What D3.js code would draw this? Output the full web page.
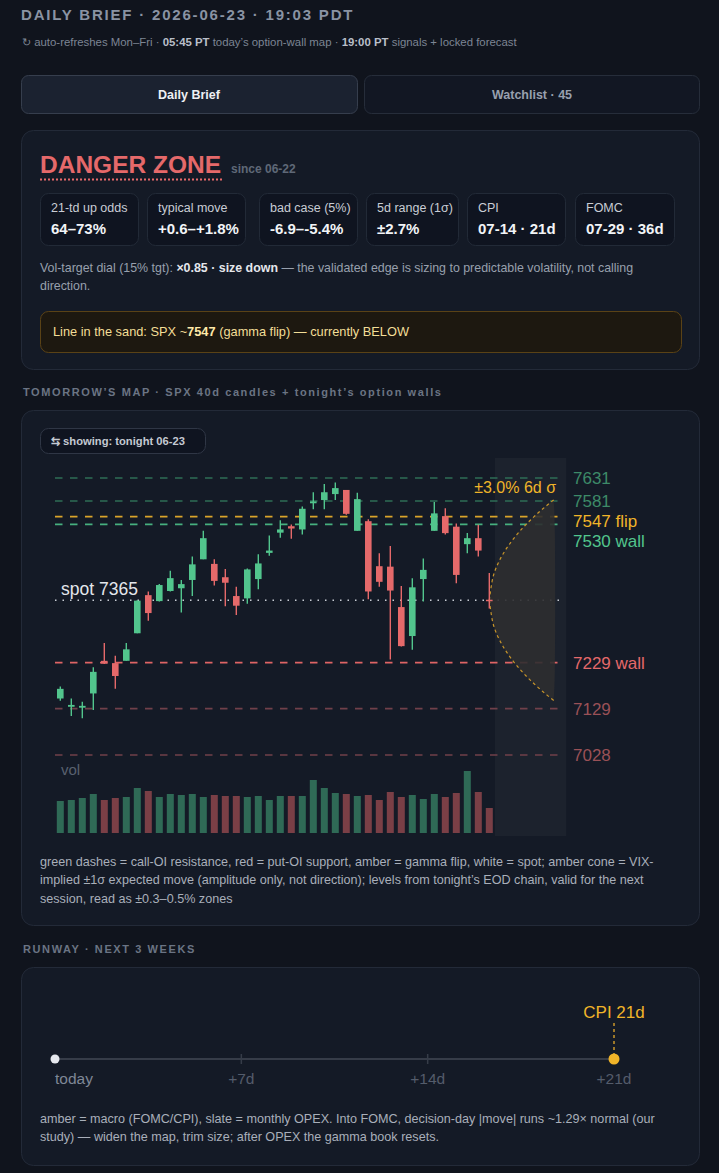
<!DOCTYPE html>
<html>
<head>
<meta charset="utf-8">
<script src="https://cdn.jsdelivr.net/npm/d3@7"></script>
<style>
  html, body { margin: 0; background: #10141d; }
  svg { display: block; font-family: "Liberation Sans", Arial, Helvetica, sans-serif; }
</style>
</head>
<body>
<svg id="page" width="719" height="1173"></svg>
<script>
var candleOpen  = [7151, 7133, 7131, 7162, 7233, 7228, 7233, 7293, 7376, 7363,
                   7385, 7391, 7409, 7454, 7444, 7415, 7374, 7369, 7411, 7468,
                   7512, 7526, 7519, 7576, 7583, 7596, 7605, 7516, 7537, 7439,
                   7438, 7350, 7287, 7411, 7516, 7548, 7525, 7487, 7500, 7366];
var candleHigh  = [7177, 7151, 7144, 7219, 7272, 7244, 7272, 7365, 7384, 7400,
                   7429, 7409, 7460, 7516, 7454, 7433, 7394, 7434, 7465, 7506,
                   7539, 7530, 7569, 7600, 7618, 7621, 7605, 7599, 7541, 7467,
                   7483, 7396, 7413, 7456, 7579, 7565, 7532, 7511, 7529, 7424];
var candleLow   = [7146, 7113, 7108, 7126, 7226, 7172, 7233, 7293, 7320, 7362,
                   7384, 7338, 7374, 7454, 7397, 7352, 7333, 7357, 7389, 7462,
                   7501, 7499, 7508, 7563, 7563, 7583, 7551, 7516, 7367, 7394,
                   7236, 7264, 7257, 7362, 7516, 7508, 7402, 7467, 7460, 7347];
var candleClose = [7172, 7137, 7135, 7209, 7227, 7200, 7258, 7364, 7337, 7398,
                   7413, 7400, 7443, 7500, 7407, 7403, 7353, 7432, 7445, 7473,
                   7519, 7521, 7564, 7580, 7600, 7609, 7553, 7585, 7384, 7405,
                   7386, 7265, 7393, 7431, 7554, 7511, 7420, 7500, 7473, 7364];
var volume      = [3.2, 3.3, 3.5, 3.9, 3.3, 3.5, 3.6, 4.5, 4.2, 3.6,
                   3.9, 3.8, 3.9, 3.6, 3.8, 3.7, 3.7, 3.6, 3.7, 3.3,
                   3.7, 3.7, 3.7, 5.3, 4.5, 4.0, 3.9, 3.7, 3.8, 3.3,
                   4.1, 3.6, 3.8, 3.4, 3.9, 3.6, 4.0, 6.2, 4.1, 2.5];

var levelPrices = [7631, 7581, 7547, 7530, 7229, 7129, 7028];
var levelLabels = ['7631', '7581', '7547 flip', '7530 wall', '7229 wall', '7129', '7028'];
var levelKinds  = ['call', 'call', 'flip', 'callWall', 'putWall', 'put', 'put'];
var spotPrice = 7365;
var coneSigmaPct = 3.0;
var coneDays = 6;

var statLabels = ['21-td up odds', 'typical move', 'bad case (5%)', '5d range (1\u03c3)', 'CPI', 'FOMC'];
var statValues = ['64\u201373%', '+0.6\u2013+1.8%', '-6.9\u2013-5.4%', '\u00b12.7%', '07-14 \u00b7 21d', '07-29 \u00b7 36d'];

var runwayTicks = [0, 7, 14, 21];
var runwayTickLabels = ['today', '+7d', '+14d', '+21d'];
var runwayEvents = ['CPI'];
var runwayEventDays = [21];

// ---- palette ----
var col = {
  card: '#141a26', cardLine: '#232a38', box: '#0f1420', boxLine: '#222a37',
  green: '#52c58d', red: '#e5696a', amber: '#f0b429'
};
var levelStroke = { call: '#2e6e56', flip: '#d9a42a', callWall: '#46b07f', putWall: '#de6465', put: '#70404a' };
var levelText   = { call: '#3d8a68', flip: '#f0b429', callWall: '#52c58d', putWall: '#e5696a', put: '#9a5157' };

var svg = d3.select('#page');

function card(x, y, w, h, fill, stroke, r) {
  return svg.append('rect')
    .attr('x', x + 0.5).attr('y', y + 0.5)
    .attr('width', w).attr('height', h)
    .attr('rx', r).attr('fill', fill).attr('stroke', stroke);
}

// mixed-weight text line: parts = [[text, bold, colour]]
function rich(g, x, y, size, parts) {
  var t = g.append('text').attr('x', x).attr('y', y).attr('font-size', size);
  parts.forEach(function (p) {
    t.append('tspan').text(p[0])
      .attr('font-weight', p[1] ? 'bold' : null)
      .attr('fill', p[2]);
  });
  return t;
}

function sectionLabel(y, s) {
  svg.append('text').attr('x', 23).attr('y', y)
    .attr('font-size', 11).attr('font-weight', 'bold')
    .attr('letter-spacing', 1.6).attr('fill', '#6b7484')
    .text(s);
}

// ---- header ----
svg.append('text').attr('x', 21).attr('y', 20)
  .attr('font-size', 15).attr('font-weight', 'bold')
  .attr('letter-spacing', 1.8).attr('fill', '#8a93a3')
  .text('DAILY BRIEF \u00b7 2026-06-23 \u00b7 19:03 PDT');

rich(svg, 22, 46, 11.4, [
  ['\u21bb auto-refreshes Mon\u2013Fri \u00b7 ', false, '#7d8594'],
  ['05:45 PT', true, '#b9bfc9'],
  [' today\u2019s option-wall map \u00b7 ', false, '#7d8594'],
  ['19:00 PT', true, '#b9bfc9'],
  [' signals + locked forecast', false, '#7d8594']
]);

card(21, 75, 336, 38, '#1b2230', '#363e4d', 7);
card(364, 75, 335, 38, '#121723', '#262d3a', 7);
svg.append('text').attr('x', 189).attr('y', 99).attr('text-anchor', 'middle')
  .attr('font-size', 12.5).attr('font-weight', 'bold').attr('fill', '#eef0f4').text('Daily Brief');
svg.append('text').attr('x', 532).attr('y', 99).attr('text-anchor', 'middle')
  .attr('font-size', 12.5).attr('font-weight', 'bold').attr('fill', '#98a0ae').text('Watchlist \u00b7 45');

// ---- danger zone card ----
card(21, 130, 678, 239, col.card, col.cardLine, 12);
svg.append('text').attr('x', 40).attr('y', 173)
  .attr('font-size', 24.5).attr('font-weight', 'bold').attr('fill', col.red).text('DANGER ZONE');
svg.append('line').attr('x1', 40).attr('x2', 222).attr('y1', 179.5).attr('y2', 179.5)
  .attr('stroke', col.red).attr('stroke-width', 2).attr('stroke-dasharray', '2,2');
svg.append('text').attr('x', 231).attr('y', 173)
  .attr('font-size', 12).attr('font-weight', 'bold').attr('fill', '#5f6877').text('since 06-22');

var statX = [40, 147, 259, 366, 467, 575];
var statW = [98, 98, 98, 92, 98, 99];
statLabels.forEach(function (lab, i) {
  card(statX[i], 193, statW[i], 52, col.box, col.boxLine, 8);
  svg.append('text').attr('x', statX[i] + 11).attr('y', 212)
    .attr('font-size', 12.5).attr('fill', '#c9cdd5').text(lab);
  svg.append('text').attr('x', statX[i] + 11).attr('y', 234)
    .attr('font-size', 15).attr('font-weight', 'bold').attr('fill', '#f2f4f7').text(statValues[i]);
});

rich(svg, 40, 272, 12.4, [
  ['Vol-target dial (15% tgt): ', false, '#98a0ad'],
  ['\u00d70.85 \u00b7 size down', true, '#e4e7ec'],
  [' \u2014 the validated edge is sizing to predictable volatility, not calling', false, '#98a0ad']
]);
svg.append('text').attr('x', 40).attr('y', 290).attr('font-size', 12.4)
  .attr('fill', '#98a0ad').text('direction.');

card(40, 311, 641, 41, '#1d1810', '#5a4216', 8);
rich(svg, 53, 336, 12.8, [
  ['Line in the sand: SPX ~', false, '#f3de97'],
  ['7547', true, '#ffe9a8'],
  [' (gamma flip) \u2014 currently BELOW', false, '#f3de97']
]);

// ---- tomorrow's map ----
sectionLabel(396, 'TOMORROW\u2019S MAP \u00b7 SPX 40d candles + tonight\u2019s option walls');

card(21, 410, 678, 515, col.card, col.cardLine, 12);
card(40, 428, 165, 25, col.box, '#2f3645', 8);
svg.append('text').attr('x', 51).attr('y', 445)
  .attr('font-size', 11.2).attr('font-weight', 'bold').attr('fill', '#c4c9d2')
  .text('\u21c6 showing: tonight 06-23');

var chart = svg.append('g').attr('class', 'candle-map');

var x = d3.scaleLinear().domain([-0.5, candleOpen.length + coneDays]).range([54.8, 566.3]);
var y = d3.scaleLinear().domain([7028, 7631]).range([755, 478]);
var yVol = d3.scaleLinear().domain([0, d3.max(volume)]).range([833, 771]);
var last = candleOpen.length - 1;

// future strip
chart.append('rect')
  .attr('x', x(last + 0.5)).attr('y', 458)
  .attr('width', x(last + coneDays + 1) - x(last + 0.5)).attr('height', 378)
  .attr('fill', '#ffffff').attr('fill-opacity', 0.035);

// option-wall levels
levelPrices.forEach(function (p, i) {
  chart.append('line')
    .attr('x1', 55).attr('x2', 562)
    .attr('y1', y(p)).attr('y2', y(p))
    .attr('stroke', levelStroke[levelKinds[i]]).attr('stroke-width', 1.6)
    .attr('stroke-dasharray', '7.5,7.5');
});

// spot line
chart.append('line')
  .attr('x1', 55).attr('x2', 562)
  .attr('y1', y(spotPrice)).attr('y2', y(spotPrice))
  .attr('stroke', '#c8ccd4').attr('stroke-width', 1.6)
  .attr('stroke-dasharray', '1.5,6');

// expected-move cone (sigma grows with sqrt of days)
var steps = d3.range(0, coneDays + 0.001, 0.25);
var upper = steps.map(function (t) {
  return [x(last + t), y(spotPrice * (1 + coneSigmaPct / 100 * Math.sqrt(t / coneDays)))];
});
var lower = steps.map(function (t) {
  return [x(last + t), y(spotPrice * (1 - coneSigmaPct / 100 * Math.sqrt(t / coneDays)))];
});
var curve = d3.line().curve(d3.curveBasis);
chart.append('path')
  .attr('d', curve(upper.concat(lower.slice().reverse())) + 'Z')
  .attr('fill', '#2e2e30').attr('fill-opacity', 0.9);
[upper, lower].forEach(function (pts) {
  chart.append('path').attr('d', curve(pts))
    .attr('fill', 'none').attr('stroke', '#c9962a').attr('stroke-width', 1.2)
    .attr('stroke-dasharray', '3,3');
});

// candles
var candles = chart.selectAll('g.candle')
  .data(d3.range(candleOpen.length))
  .enter().append('g').attr('class', 'candle');

candles.append('line')
  .attr('x1', function (i) { return x(i); })
  .attr('x2', function (i) { return x(i); })
  .attr('y1', function (i) { return y(candleHigh[i]); })
  .attr('y2', function (i) { return y(candleLow[i]); })
  .attr('stroke', function (i) { return candleClose[i] >= candleOpen[i] ? col.green : col.red; })
  .attr('stroke-width', 1.4);

candles.append('rect')
  .attr('x', function (i) { return x(i) - 3.3; })
  .attr('width', 6.6)
  .attr('y', function (i) { return y(Math.max(candleOpen[i], candleClose[i])); })
  .attr('height', function (i) {
    return Math.max(1.5, Math.abs(y(candleOpen[i]) - y(candleClose[i])));
  })
  .attr('fill', function (i) { return candleClose[i] >= candleOpen[i] ? col.green : col.red; });

// volume
chart.selectAll('rect.vol')
  .data(volume)
  .enter().append('rect')
  .attr('class', 'vol')
  .attr('x', function (d, i) { return x(i) - 3.5; })
  .attr('width', 7)
  .attr('y', function (d) { return yVol(d); })
  .attr('height', function (d) { return yVol(0) - yVol(d); })
  .attr('fill', function (d, i) { return candleClose[i] >= candleOpen[i] ? '#2f6a56' : '#7a3f46'; });

chart.append('text').attr('x', 61).attr('y', 775)
  .attr('font-size', 15).attr('fill', '#59616f').text('vol');

chart.append('text').attr('x', 61).attr('y', 595)
  .attr('font-size', 17.5).attr('fill', '#e4e7ec').text('spot ' + spotPrice);

chart.append('text').attr('x', 556).attr('y', 493)
  .attr('text-anchor', 'end').attr('font-size', 16).attr('fill', col.amber)
  .text('\u00b1' + coneSigmaPct.toFixed(1) + '% ' + coneDays + 'd \u03c3');

// right-hand labels, nudged apart when levels crowd
var prevY = -Infinity;
levelPrices.forEach(function (p, i) {
  var ly = Math.max(y(p), prevY + 20);
  prevY = ly;
  chart.append('text').attr('x', 573).attr('y', ly + 6)
    .attr('font-size', 17).attr('fill', levelText[levelKinds[i]])
    .text(levelLabels[i]);
});

var capLines = [
  'green dashes = call-OI resistance, red = put-OI support, amber = gamma flip, white = spot; amber cone = VIX-',
  'implied \u00b11\u03c3 expected move (amplitude only, not direction); levels from tonight\u2019s EOD chain, valid for the next',
  'session, read as \u00b10.3\u20130.5% zones'
];
capLines.forEach(function (s, i) {
  svg.append('text').attr('x', 40).attr('y', 866 + i * 18.3)
    .attr('font-size', 12.6).attr('fill', '#a9afba').text(s);
});

// ---- runway ----
sectionLabel(953, 'RUNWAY \u00b7 NEXT 3 WEEKS');

card(21, 967, 678, 198, col.card, col.cardLine, 12);

var rx = d3.scaleLinear().domain([0, 21]).range([55, 614]);
var runY = 1059;
var run = svg.append('g').attr('class', 'runway');

run.append('line').attr('x1', rx(0)).attr('x2', rx(21))
  .attr('y1', runY).attr('y2', runY)
  .attr('stroke', '#363c48').attr('stroke-width', 2);

run.selectAll('line.tick')
  .data(runwayTicks.filter(function (d) { return d > 0 && d < 21; }))
  .enter().append('line').attr('class', 'tick')
  .attr('x1', rx).attr('x2', rx)
  .attr('y1', runY - 5).attr('y2', runY + 5)
  .attr('stroke', '#363c48').attr('stroke-width', 1.5);

run.selectAll('text.tl')
  .data(runwayTicks)
  .enter().append('text').attr('class', 'tl')
  .attr('x', rx)
  .attr('y', 1084)
  .attr('text-anchor', function (d) { return d === 0 ? 'start' : 'middle'; })
  .attr('font-size', 15.5)
  .attr('fill', function (d) { return d === 0 ? '#7f8796' : '#545c6b'; })
  .text(function (d, i) { return runwayTickLabels[i]; });

run.append('circle').attr('cx', rx(0)).attr('cy', runY).attr('r', 4.5).attr('fill', '#e6e8ee');

runwayEvents.forEach(function (ev, i) {
  var ex = rx(runwayEventDays[i]);
  run.append('line').attr('x1', ex).attr('x2', ex)
    .attr('y1', 1023).attr('y2', runY - 5)
    .attr('stroke', '#c9962a').attr('stroke-width', 1.5).attr('stroke-dasharray', '3,3');
  run.append('circle').attr('cx', ex).attr('cy', runY).attr('r', 5.5).attr('fill', col.amber);
  run.append('text').attr('x', ex).attr('y', 1018).attr('text-anchor', 'middle')
    .attr('font-size', 17).attr('fill', col.amber)
    .text(ev + ' ' + runwayEventDays[i] + 'd');
});

var runCap = [
  'amber = macro (FOMC/CPI), slate = monthly OPEX. Into FOMC, decision-day |move| runs ~1.29\u00d7 normal (our',
  'study) \u2014 widen the map, trim size; after OPEX the gamma book resets.'
];
runCap.forEach(function (s, i) {
  svg.append('text').attr('x', 40).attr('y', 1123 + i * 18)
    .attr('font-size', 12.6).attr('fill', '#a9afba').text(s);
});
</script>
</body>
</html>
